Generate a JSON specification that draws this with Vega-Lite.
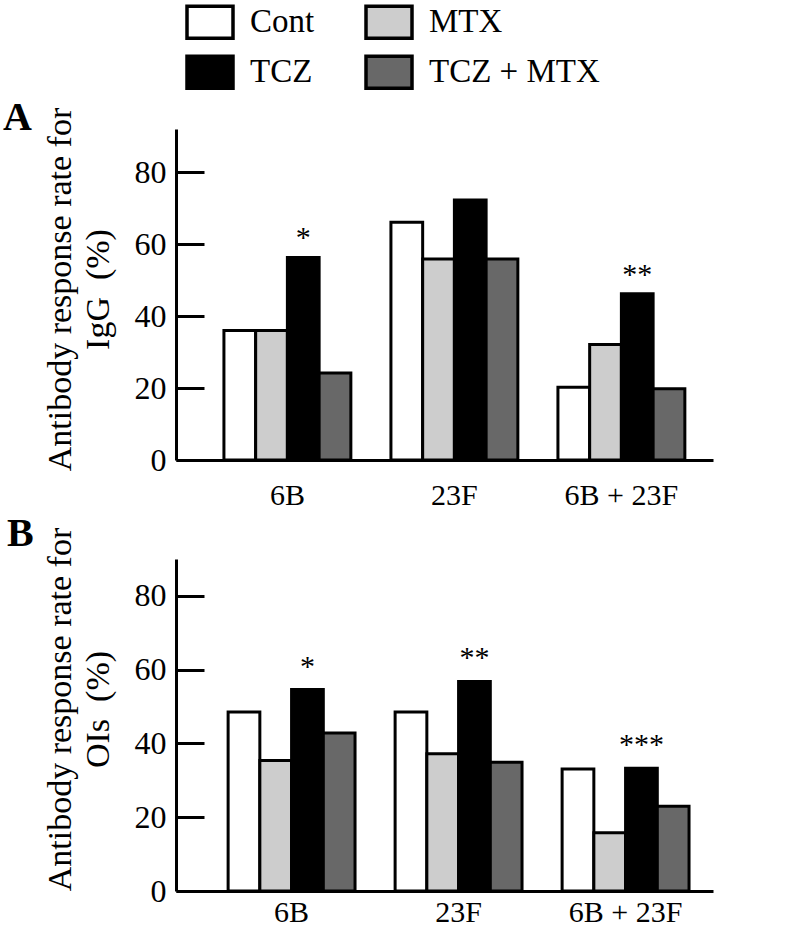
{
  "$schema": "https://vega.github.io/schema/vega-lite/v6.json",
  "padding": {"left": 3, "top": 4, "right": 5, "bottom": 5},
  "background": "white",
  "bounds": "flush",
  "spacing": 99,
  "config": {
    "font": "Liberation Serif",
    "view": {"stroke": null},
    "axis": {"labelFont": "Liberation Serif", "titleFont": "Liberation Serif", "labelColor": "black", "titleColor": "black", "grid": false},
    "legend": {"labelFont": "Liberation Serif"},
    "title": {"font": "Liberation Serif", "color": "black"}
  },
  "datasets": {
    "igg": [
      {"serotype": "6B", "group": "Cont", "rate": 36.0, "sig": ""},
      {"serotype": "6B", "group": "MTX", "rate": 36.0, "sig": ""},
      {"serotype": "6B", "group": "TCZ", "rate": 56.3, "sig": "*"},
      {"serotype": "6B", "group": "TCZ + MTX", "rate": 24.2, "sig": ""},
      {"serotype": "23F", "group": "Cont", "rate": 66.1, "sig": ""},
      {"serotype": "23F", "group": "MTX", "rate": 55.9, "sig": ""},
      {"serotype": "23F", "group": "TCZ", "rate": 72.3, "sig": ""},
      {"serotype": "23F", "group": "TCZ + MTX", "rate": 55.9, "sig": ""},
      {"serotype": "6B + 23F", "group": "Cont", "rate": 20.2, "sig": ""},
      {"serotype": "6B + 23F", "group": "MTX", "rate": 32.1, "sig": ""},
      {"serotype": "6B + 23F", "group": "TCZ", "rate": 46.2, "sig": "**"},
      {"serotype": "6B + 23F", "group": "TCZ + MTX", "rate": 19.8, "sig": ""}
    ],
    "ois": [
      {"serotype": "6B", "group": "Cont", "rate": 48.5, "sig": ""},
      {"serotype": "6B", "group": "MTX", "rate": 35.4, "sig": ""},
      {"serotype": "6B", "group": "TCZ", "rate": 54.6, "sig": "*"},
      {"serotype": "6B", "group": "TCZ + MTX", "rate": 42.8, "sig": ""},
      {"serotype": "23F", "group": "Cont", "rate": 48.5, "sig": ""},
      {"serotype": "23F", "group": "MTX", "rate": 37.2, "sig": ""},
      {"serotype": "23F", "group": "TCZ", "rate": 56.8, "sig": "**"},
      {"serotype": "23F", "group": "TCZ + MTX", "rate": 34.9, "sig": ""},
      {"serotype": "6B + 23F", "group": "Cont", "rate": 33.1, "sig": ""},
      {"serotype": "6B + 23F", "group": "MTX", "rate": 15.8, "sig": ""},
      {"serotype": "6B + 23F", "group": "TCZ", "rate": 33.3, "sig": "***"},
      {"serotype": "6B + 23F", "group": "TCZ + MTX", "rate": 23.0, "sig": ""}
    ]
  },
  "vconcat": [
    {
      "width": 537,
      "height": 331,
      "title": {"text": "A", "anchor": "start", "dx": -40, "offset": -63, "fontSize": 40, "fontWeight": "bold", "baseline": "alphabetic"},
      "data": {"name": "igg"},
      "encoding": {
        "x": {"field": "serotype", "type": "nominal", "sort": ["6B", "23F", "6B + 23F"],
          "scale": {"paddingInner": 0.24, "paddingOuter": 0.2278, "align": 0.63},
          "axis": {"title": null, "ticks": false, "domainWidth": 3, "domainColor": "black", "labelFontSize": 30, "labelPadding": 20, "labelAngle": 0}},
        "xOffset": {"field": "group", "type": "nominal", "scale": {"domain": ["Cont", "MTX", "TCZ", "TCZ + MTX"], "paddingInner": 0, "paddingOuter": 0}},
        "y": {"field": "rate", "type": "quantitative", "scale": {"domain": [0, 92], "nice": false},
          "axis": {"title": ["Antibody response rate for", "IgG\u00a0 (%)"], "values": [0, 20, 40, 60, 80], "tickSize": -28, "tickWidth": 3, "tickColor": "black", "domainWidth": 3, "domainColor": "black", "labelPadding": 38, "labelFontSize": 32, "titleFontSize": 34, "titleFontWeight": "normal", "titleLineHeight": 38, "titlePadding": 19, "titleY": 160}}
      },
      "layer": [
        {"mark": {"type": "bar", "stroke": "black", "strokeWidth": 3},
          "encoding": {"fill": {"field": "group", "type": "nominal",
            "scale": {"domain": ["Cont", "MTX", "TCZ", "TCZ + MTX"], "range": ["#ffffff", "#cdcdcd", "#000000", "#686868"]},
            "legend": {"title": null, "orient": "none", "legendX": 16, "legendY": -124.75, "direction": "horizontal", "columns": 2, "symbolType": "M-1.4375,-1L1.4375,-1L1.4375,1L-1.4375,1Z", "symbolSize": 1024, "symbolStrokeColor": "black", "symbolStrokeWidth": 3.5, "labelFontSize": 33, "labelColor": "black", "labelLimit": 0, "labelOffset": 22, "columnPadding": 44, "rowPadding": 4}}}},
        {"transform": [{"filter": "datum.sig != ''"}],
          "mark": {"type": "text", "dy": -10, "fontSize": 30, "baseline": "alphabetic", "color": "black"},
          "encoding": {"text": {"field": "sig"}}}
      ]
    },
    {
      "width": 537,
      "height": 332,
      "title": {"text": "B", "anchor": "start", "dx": -36, "offset": -59, "fontSize": 40, "fontWeight": "bold", "baseline": "alphabetic"},
      "data": {"name": "ois"},
      "encoding": {
        "x": {"field": "serotype", "type": "nominal", "sort": ["6B", "23F", "6B + 23F"],
          "scale": {"paddingInner": 0.24, "paddingOuter": 0.2278, "align": 0.685},
          "axis": {"title": null, "ticks": false, "domainWidth": 3, "domainColor": "black", "labelFontSize": 30, "labelPadding": 6, "labelAngle": 0}},
        "xOffset": {"field": "group", "type": "nominal", "scale": {"domain": ["Cont", "MTX", "TCZ", "TCZ + MTX"], "paddingInner": 0, "paddingOuter": 0}},
        "y": {"field": "rate", "type": "quantitative", "scale": {"domain": [0, 90], "nice": false},
          "axis": {"title": ["Antibody response rate for", "OIs\u00a0 (%)"], "values": [0, 20, 40, 60, 80], "tickSize": -28, "tickWidth": 3, "tickColor": "black", "domainWidth": 3, "domainColor": "black", "labelPadding": 38, "labelFontSize": 32, "titleFontSize": 34, "titleFontWeight": "normal", "titleLineHeight": 38, "titlePadding": 19, "titleY": 150}}
      },
      "layer": [
        {"mark": {"type": "bar", "stroke": "black", "strokeWidth": 3},
          "encoding": {"fill": {"field": "group", "type": "nominal",
            "scale": {"domain": ["Cont", "MTX", "TCZ", "TCZ + MTX"], "range": ["#ffffff", "#cdcdcd", "#000000", "#686868"]},
            "legend": {"title": null, "orient": "none", "legendX": 16, "legendY": -124.75, "direction": "horizontal", "columns": 2, "symbolType": "M-1.4375,-1L1.4375,-1L1.4375,1L-1.4375,1Z", "symbolSize": 1024, "symbolStrokeColor": "black", "symbolStrokeWidth": 3.5, "labelFontSize": 33, "labelColor": "black", "labelLimit": 0, "labelOffset": 22, "columnPadding": 44, "rowPadding": 4}}}},
        {"transform": [{"filter": "datum.sig != ''"}],
          "mark": {"type": "text", "dy": -14, "fontSize": 30, "baseline": "alphabetic", "color": "black"},
          "encoding": {"text": {"field": "sig"}}}
      ]
    }
  ]
}
